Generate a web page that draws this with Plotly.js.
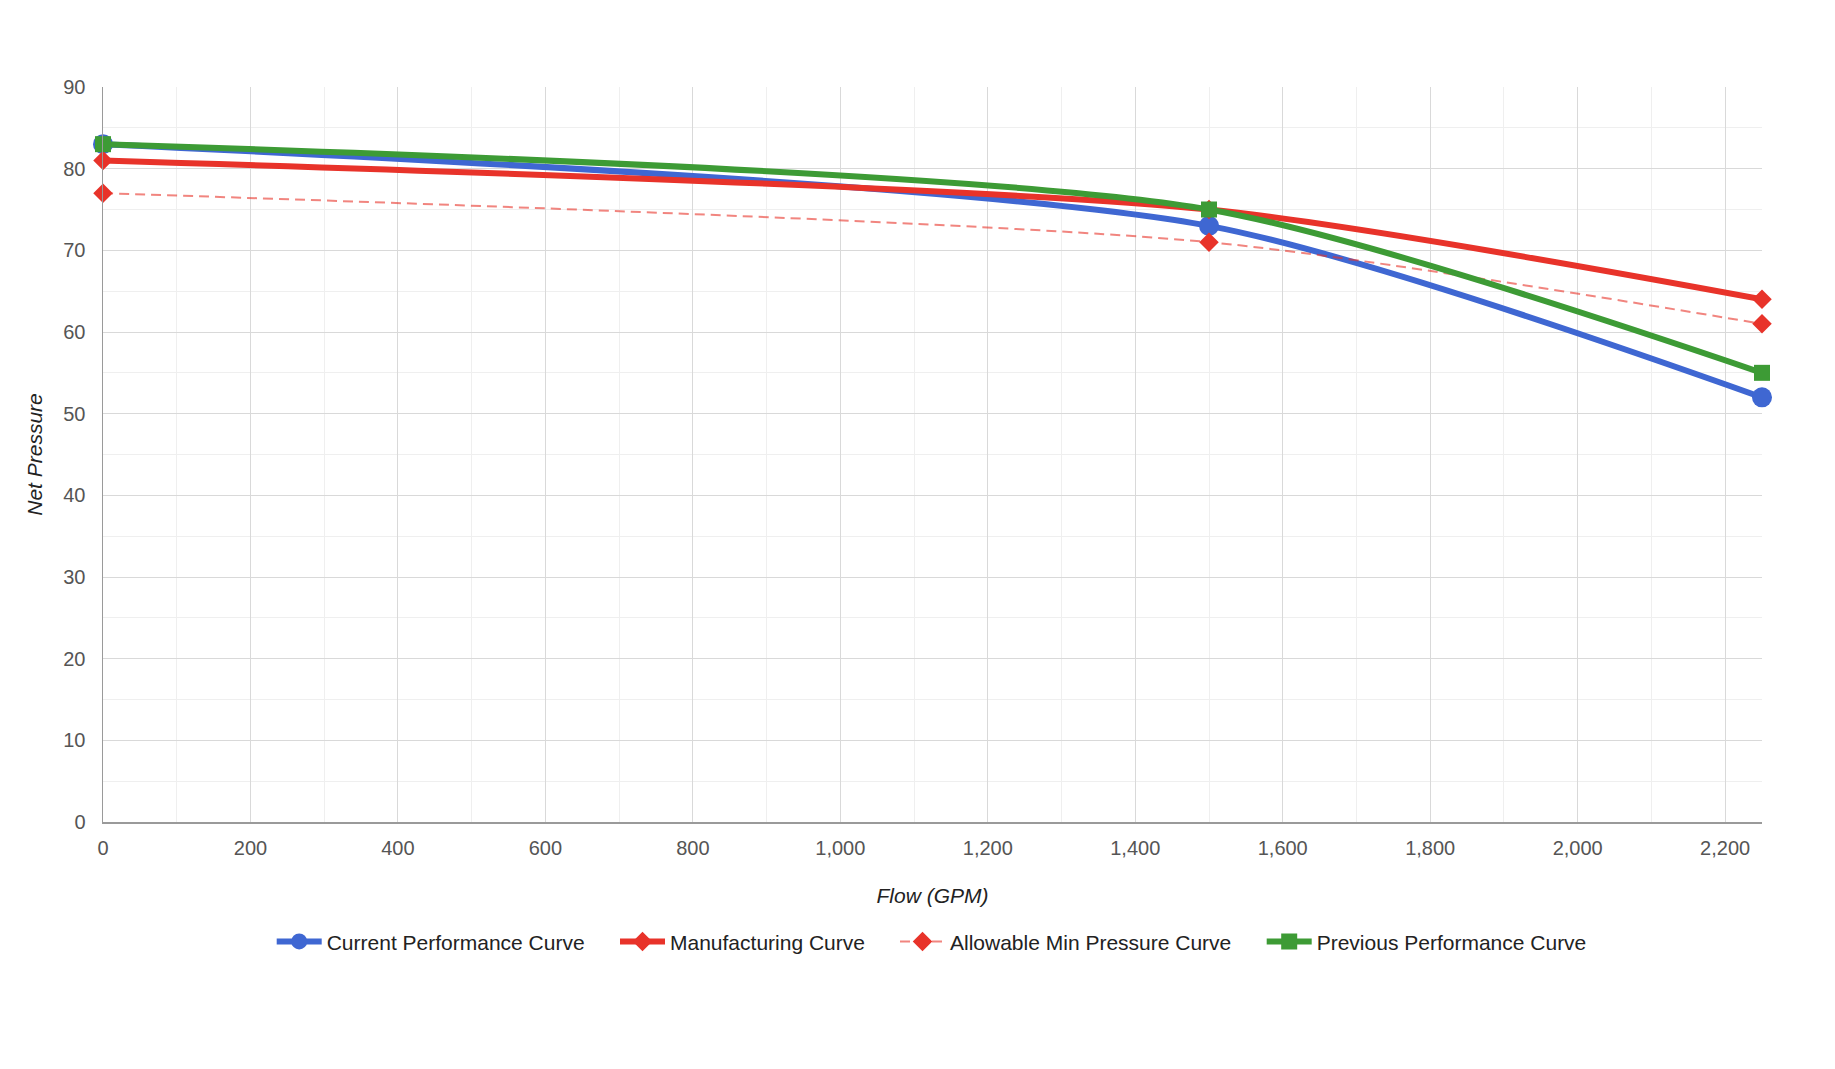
<!DOCTYPE html>
<html>
<head>
<meta charset="utf-8">
<script src="https://cdn.plot.ly/plotly-3.0.1.min.js"></script>
<style>
  html, body { margin: 0; padding: 0; background: #ffffff; }
  #chart { width: 1835px; height: 1069px; }
</style>
</head>
<body>
<div id="chart"></div>
<script>
// Data
const flowGPM = [0, 1500, 2250];
const currentPerformance = [83, 73, 52];
const manufacturingCurve = [81, 75, 64];
const allowableMinPressure = [77, 71, 61];
const previousPerformance = [83, 75, 55];

const seriesNames = [
  'Current Performance Curve',
  'Manufacturing Curve',
  'Allowable Min Pressure Curve',
  'Previous Performance Curve'
];

const xTickVals = [0, 200, 400, 600, 800, 1000, 1200, 1400, 1600, 1800, 2000, 2200];
const xTickText = ['0', '200', '400', '600', '800', '1,000', '1,200', '1,400', '1,600', '1,800', '2,000', '2,200'];
const yTickVals = [0, 10, 20, 30, 40, 50, 60, 70, 80, 90];

const FONT = 'Arial, "Liberation Sans", Helvetica, sans-serif';
const BLUE = '#3f67d2';
const RED = '#e8332a';
const GREEN = '#3d9b35';
const SMOOTH = 0.7;

const traces = [
  {
    x: flowGPM, y: currentPerformance, name: seriesNames[0], legend: 'legend',
    mode: 'lines+markers', type: 'scatter', cliponaxis: false,
    line: { color: BLUE, width: 6, shape: 'spline', smoothing: SMOOTH },
    marker: { symbol: 'circle', size: 20, color: BLUE }
  },
  {
    x: flowGPM, y: manufacturingCurve, name: seriesNames[1], legend: 'legend2',
    mode: 'lines+markers', type: 'scatter', cliponaxis: false,
    line: { color: RED, width: 6, shape: 'spline', smoothing: SMOOTH },
    marker: { symbol: 'diamond', size: 15, color: RED }
  },
  {
    x: flowGPM, y: allowableMinPressure, name: seriesNames[2], legend: 'legend3',
    mode: 'lines+markers', type: 'scatter', cliponaxis: false,
    line: { color: 'rgba(232,51,42,0.6)', width: 2, shape: 'spline', smoothing: SMOOTH, dash: '10px,6px' },
    marker: { symbol: 'diamond', size: 15, color: RED }
  },
  {
    x: flowGPM, y: previousPerformance, name: seriesNames[3], legend: 'legend4',
    mode: 'lines+markers', type: 'scatter', cliponaxis: false,
    line: { color: GREEN, width: 6, shape: 'spline', smoothing: SMOOTH },
    marker: { symbol: 'square', size: 16, color: GREEN }
  }
];

function legendAt(xPaper) {
  return {
    orientation: 'h',
    x: xPaper,
    xanchor: 'left',
    y: -0.163,
    yanchor: 'middle',
    font: { family: FONT, size: 21, color: '#222222' },
    itemwidth: 45,
    bgcolor: 'rgba(0,0,0,0)',
    borderwidth: 0
  };
}

const layout = {
  width: 1835,
  height: 1069,
  paper_bgcolor: '#ffffff',
  plot_bgcolor: '#ffffff',
  font: { family: FONT, size: 20, color: '#555555' },
  margin: { l: 103, r: 73, t: 87, b: 247, pad: 0 },
  showlegend: true,
  hovermode: false,
  xaxis: {
    range: [0, 2250],
    tickmode: 'array',
    tickvals: xTickVals,
    ticktext: xTickText,
    ticks: '',
    ticklabelstandoff: 7,
    showgrid: true,
    gridcolor: '#d9d9d9',
    gridwidth: 1,
    minor: { dtick: 100, showgrid: true, gridcolor: '#efefef', gridwidth: 1, ticks: '' },
    showline: true,
    linecolor: '#9a9a9a',
    linewidth: 1.5,
    zeroline: false,
    tickfont: { family: FONT, size: 20, color: '#555555' },
    automargin: false,
    title: {
      text: 'Flow (GPM)',
      font: { family: FONT, size: 21, color: '#222222', style: 'italic' },
      standoff: 31
    }
  },
  yaxis: {
    range: [0, 90],
    tickmode: 'array',
    tickvals: yTickVals,
    ticks: '',
    ticklabelstandoff: 12,
    showgrid: true,
    gridcolor: '#d9d9d9',
    gridwidth: 1,
    minor: { dtick: 5, showgrid: true, gridcolor: '#efefef', gridwidth: 1, ticks: '' },
    showline: true,
    linecolor: '#9a9a9a',
    linewidth: 1.5,
    zeroline: false,
    tickfont: { family: FONT, size: 20, color: '#555555' },
    automargin: false,
    title: {
      text: 'Net Pressure',
      font: { family: FONT, size: 21, color: '#222222', style: 'italic' },
      standoff: 15
    }
  },
  legend: legendAt(0.10169),
  legend2: legendAt(0.30862),
  legend3: legendAt(0.47740),
  legend4: legendAt(0.69843)
};

Plotly.newPlot('chart', traces, layout, { displayModeBar: false, staticPlot: true });
</script>
</body>
</html>
